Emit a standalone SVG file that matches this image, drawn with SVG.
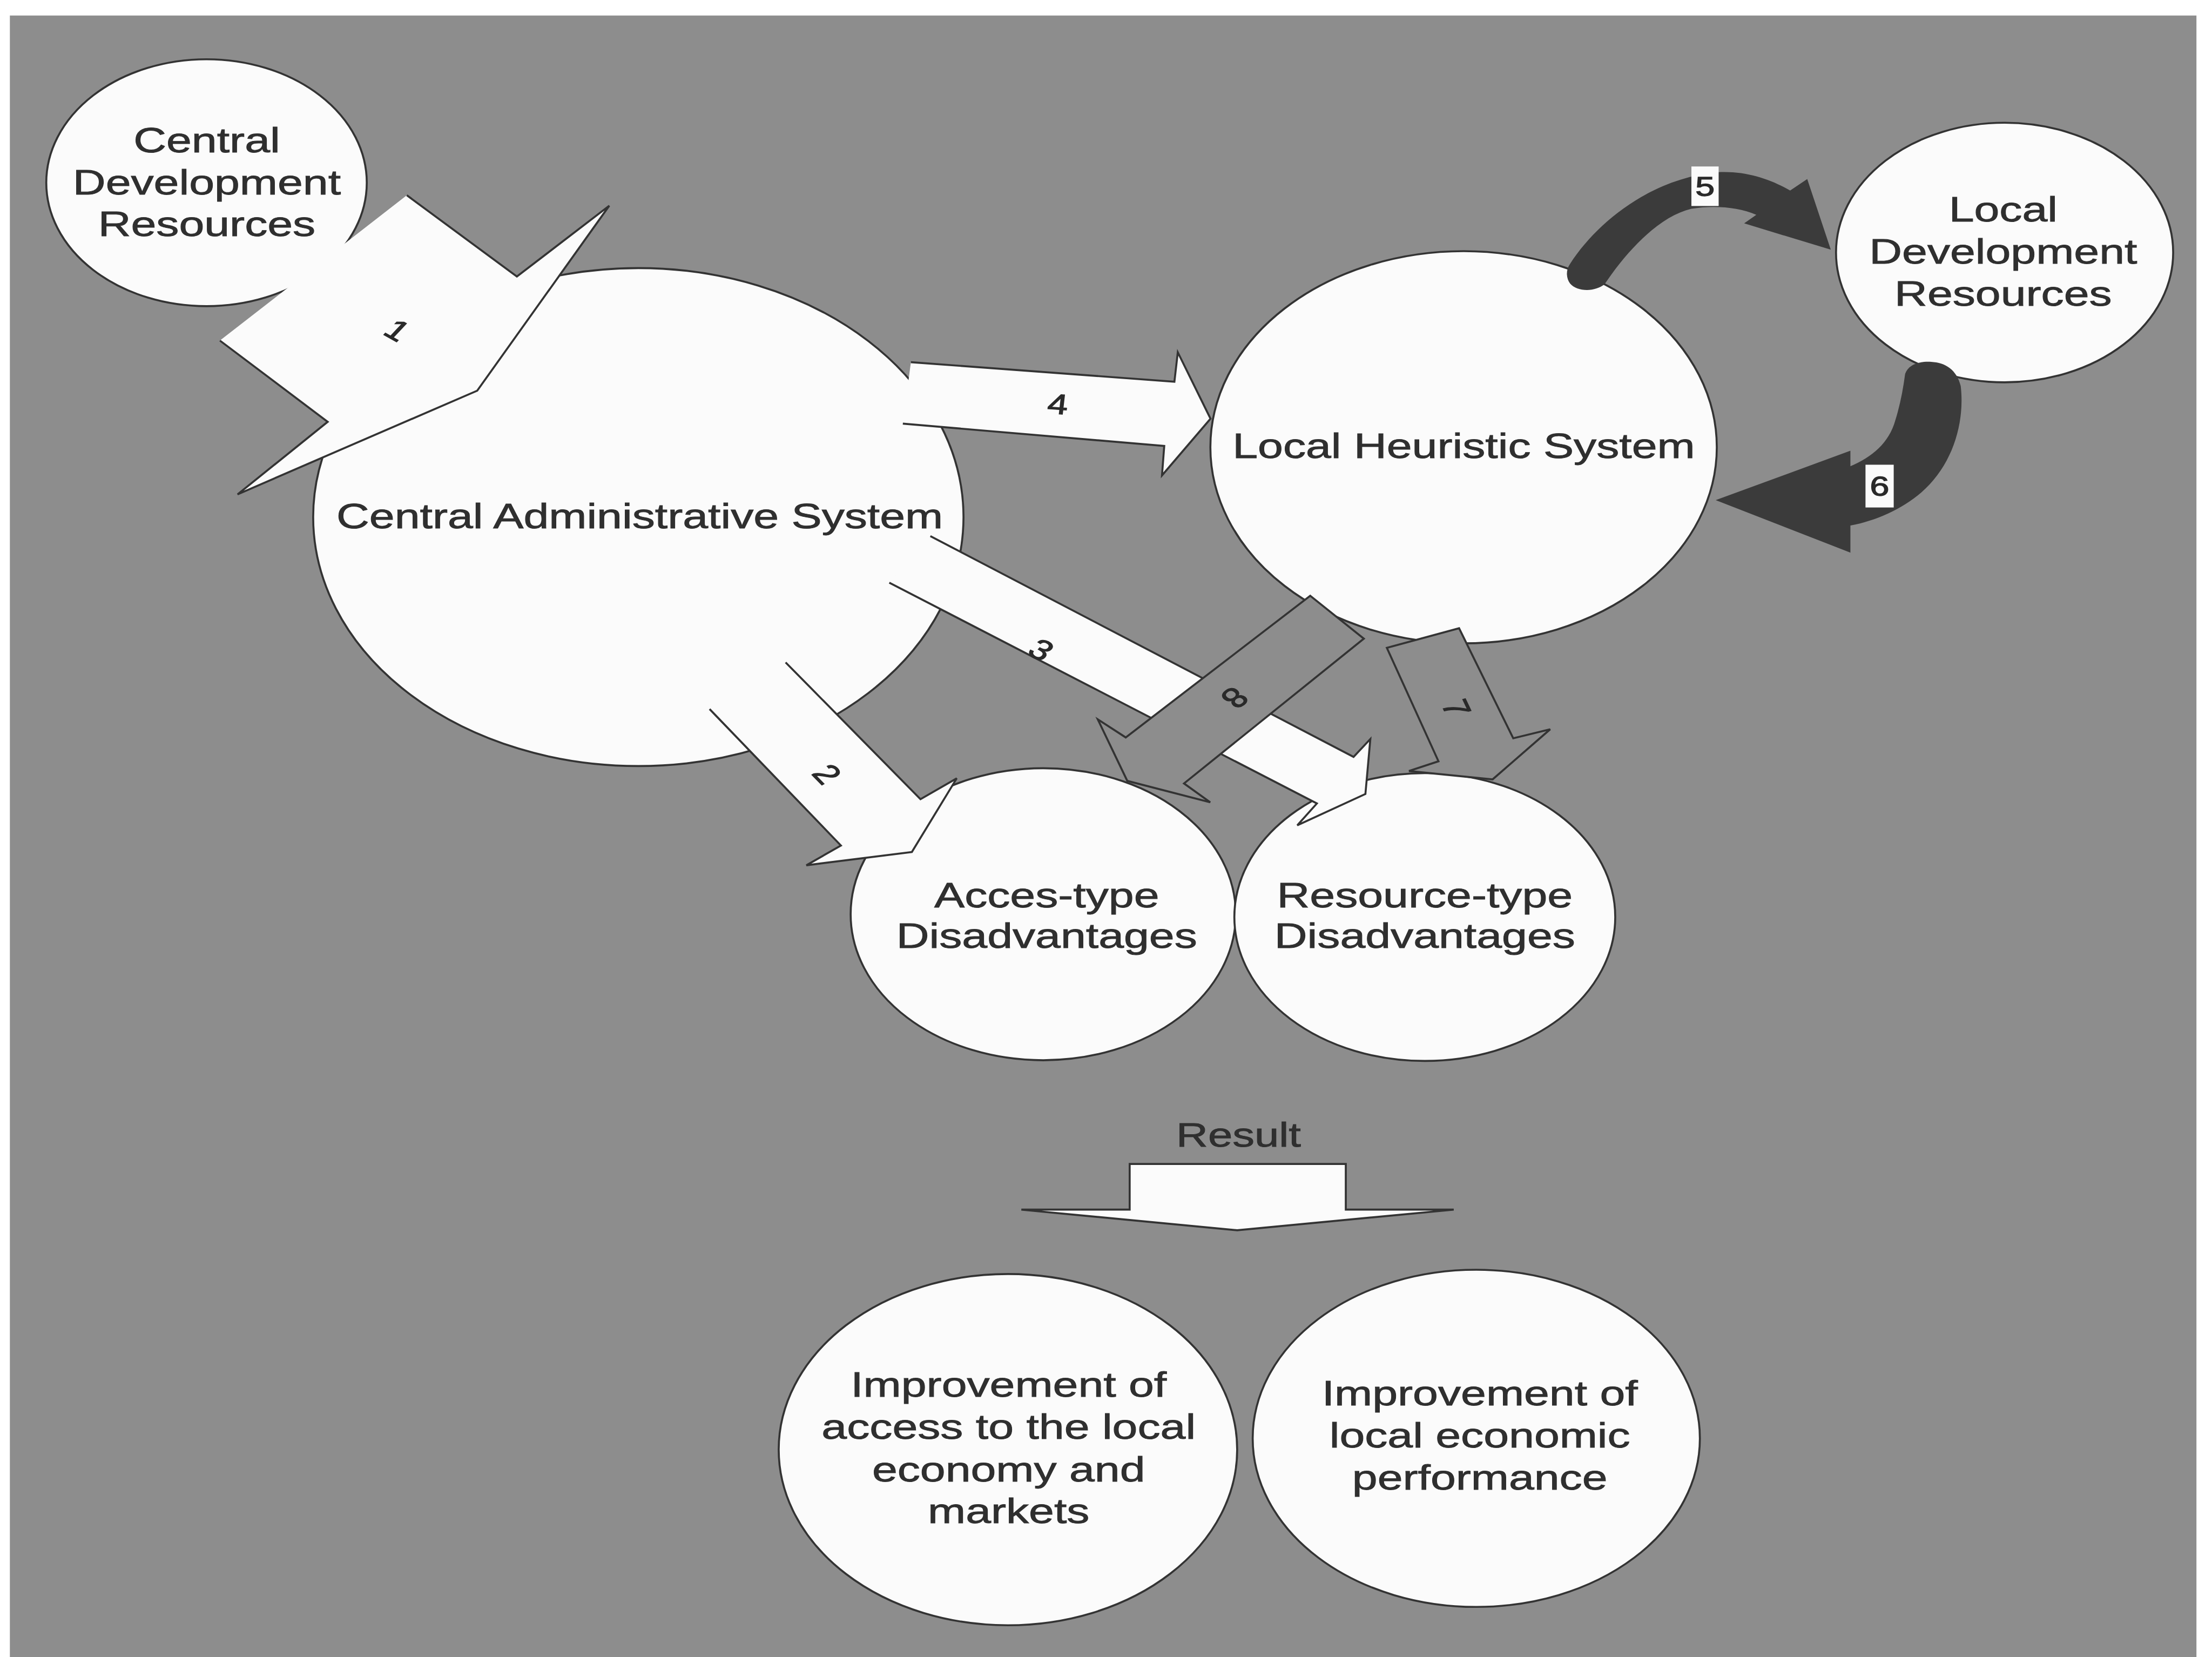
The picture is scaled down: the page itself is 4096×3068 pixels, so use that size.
<svg xmlns="http://www.w3.org/2000/svg" width="4096" height="3068" viewBox="0 0 4096 3068">
<style>
.node{fill:#fbfbfb;stroke:#333;stroke-width:1.4}
.t{font-family:"Liberation Sans",Arial,Helvetica,sans-serif;font-size:24.8px;fill:#2f2f2f;stroke:#2f2f2f;stroke-width:0.35px;text-anchor:middle}
.wa{fill:#fbfbfb;stroke:#333;stroke-width:1.4;stroke-linejoin:miter}
.ga{fill:#8d8d8d;stroke:#333;stroke-width:1.4;stroke-linejoin:miter}
.da{fill:#3b3b3b}
.lbl{font-family:"Liberation Sans",Arial,Helvetica,sans-serif;font-size:20px;fill:#2a2a2a;stroke:#2a2a2a;stroke-width:0.5px;text-anchor:middle}
.box{fill:#fbfbfb}
</style>
<rect width="4096" height="3068" fill="#ffffff"/>
<g transform="scale(2.6122)">
<rect x="7" y="11" width="1550" height="1170" fill="#8d8d8d"/>

<g id="central-development-resources">
<ellipse class="node" cx="146.4" cy="129.5" rx="113.6" ry="87.5"/>
<g transform="translate(146.6,0) scale(1.3,1)">
<text class="t" x="0" y="108">Central</text>
<text class="t" x="0" y="138">Development</text>
<text class="t" x="0" y="167.3">Resources</text>
</g>
</g>

<g id="central-administrative-system">
<ellipse class="node" cx="452.5" cy="366.5" rx="230.5" ry="176.5"/>
<g transform="translate(453.5,0) scale(1.3,1)">
<text class="t" x="0" y="374.5">Central Administrative System</text>
</g>
</g>

<g id="local-heuristic-system">
<ellipse class="node" cx="1037.5" cy="317" rx="179.5" ry="139"/>
<g transform="translate(1037.6,0) scale(1.3,1)">
<text class="t" x="0" y="324.5">Local Heuristic System</text>
</g>
</g>

<g id="local-development-resources">
<ellipse class="node" cx="1421" cy="179" rx="119.5" ry="92"/>
<g transform="translate(1420,0) scale(1.3,1)">
<text class="t" x="0" y="157">Local</text>
<text class="t" x="0" y="187">Development</text>
<text class="t" x="0" y="216.5">Resources</text>
</g>
</g>

<g id="access-type-disadvantages">
<ellipse class="node" cx="739.5" cy="648" rx="136.5" ry="103.5"/>
<g transform="translate(742,0) scale(1.3,1)">
<text class="t" x="0" y="643">Acces-type</text>
<text class="t" x="0" y="672">Disadvantages</text>
</g>
</g>

<g id="resource-type-disadvantages">
<ellipse class="node" cx="1010" cy="650" rx="135" ry="102"/>
<g transform="translate(1010,0) scale(1.3,1)">
<text class="t" x="0" y="643">Resource-type</text>
<text class="t" x="0" y="672">Disadvantages</text>
</g>
</g>

<g id="improvement-of-access">
<ellipse class="node" cx="714.5" cy="1027.5" rx="162.5" ry="124.5"/>
<g transform="translate(715,0) scale(1.3,1)">
<text class="t" x="0" y="990">Improvement of</text>
<text class="t" x="0" y="1020">access to the local</text>
<text class="t" x="0" y="1050">economy and</text>
<text class="t" x="0" y="1079.5">markets</text>
</g>
</g>

<g id="improvement-of-performance">
<ellipse class="node" cx="1046.5" cy="1019.5" rx="158.5" ry="119.5"/>
<g transform="translate(1049,0) scale(1.3,1)">
<text class="t" x="0" y="996">Improvement of</text>
<text class="t" x="0" y="1026">local economic</text>
<text class="t" x="0" y="1056">performance</text>
</g>
</g>

<g id="connectors">
<!-- 1: Central Development Resources to Central Administrative System -->
<path class="wa" d="M288.4,138.4 L366.4,196 L431.9,145.8 L338.3,276.9 L168.4,350.4 L232.3,299 L155.9,241.4"/>
<text class="lbl" transform="translate(281.7,234) scale(1.3,1) rotate(36)" x="0" y="7">1</text>

<!-- 4: CAS to LHS -->
<path class="wa" d="M645.7,256.7 L832.5,270.6 L834.9,249.7 L858.1,296.8 L823.7,337 L825.3,316.1 L640,300.3"/>
<text class="lbl" transform="translate(749.9,286.4) scale(1.3,1) rotate(5)" x="0" y="7">4</text>

<!-- 2: CAS to Acces-type -->
<path class="wa" d="M556.9,469.5 L652.5,566.5 L678.2,551.7 L646.4,603.9 L571.6,613.3 L596.1,599.3 L503,502.6"/>
<text class="lbl" transform="translate(586.3,548.6) scale(1.3,1) rotate(53)" x="0" y="7">2</text>

<!-- 3: CAS to Resource-type -->
<path class="wa" d="M659.5,380 L959.5,536.5 L971.4,523.8 L967.9,562.8 L919.6,585 L933.5,569.5 L630.4,413"/>
<text class="lbl" transform="translate(738.2,460.5) scale(1.3,1) rotate(34)" x="0" y="7">3</text>

<!-- 8: LHS to Acces-type -->
<path class="ga" d="M928.8,422.3 L966.8,452.7 L839.3,555.3 L857.9,568.7 L799.1,553.5 L778.2,509.9 L798,522.7 Z"/>
<text class="lbl" transform="translate(875.4,494.7) scale(1.3,1) rotate(135)" x="0" y="7">8</text>

<!-- 7: LHS to Resource-type -->
<path class="ga" d="M983.1,459.2 L1034.3,445.3 L1072.7,523.3 L1098.9,516.9 L1058.1,552.4 L998.8,546.5 L1019.7,539.6 Z"/>
<text class="lbl" transform="translate(1032.5,501.7) scale(1.3,1) rotate(70)" x="0" y="7">7</text>

<!-- 5: LHS to LDR (curved) -->
<path class="da" d="M1113,187 C1133,156 1172,126 1218,122 C1238,121 1255,127 1269,135 L1281.1,126.9 L1297.8,177 L1236.4,158.3 L1245,152.3 C1232,146.5 1214,145.5 1199,148 C1178,153 1156,174 1137.5,201.4 C1131,207 1118,207 1113,201 C1110,197 1110,191 1113,187 Z"/>
<rect class="box" x="1199" y="118" width="19.3" height="28"/>
<text class="lbl" style="font-size:19px" transform="translate(1208.6,132) scale(1.3,1)" x="0" y="6.8">5</text>

<!-- 6: LDR to LHS (curved) -->
<path class="da" d="M1350.5,265 C1353,258 1361,256 1369,256.5 C1379,257 1387,262 1389.9,273.6 C1393,300 1384,330 1362,349 C1348,361 1330,369 1311.7,372.5 L1311.7,391.7 L1216.2,354.5 L1311.7,319.5 L1311.7,330.5 C1327,324 1339,314 1343.5,298 C1347,287 1349,276 1350.5,265 Z"/>
<rect class="box" x="1322.4" y="329.4" width="20" height="30.3"/>
<text class="lbl" style="font-size:19px" transform="translate(1332.4,344.6) scale(1.3,1)" x="0" y="6.8">6</text>

<!-- Result arrow -->
<path class="wa" d="M800.8,825 L954,825 L954,857.4 L1030.5,857.4 L877,872 L724,857.4 L800.8,857.4 Z"/>
<text class="t" style="font-size:24px" transform="translate(878,0) scale(1.3,1)" x="0" y="812.6">Result</text>
</g>
</g>
</svg>
